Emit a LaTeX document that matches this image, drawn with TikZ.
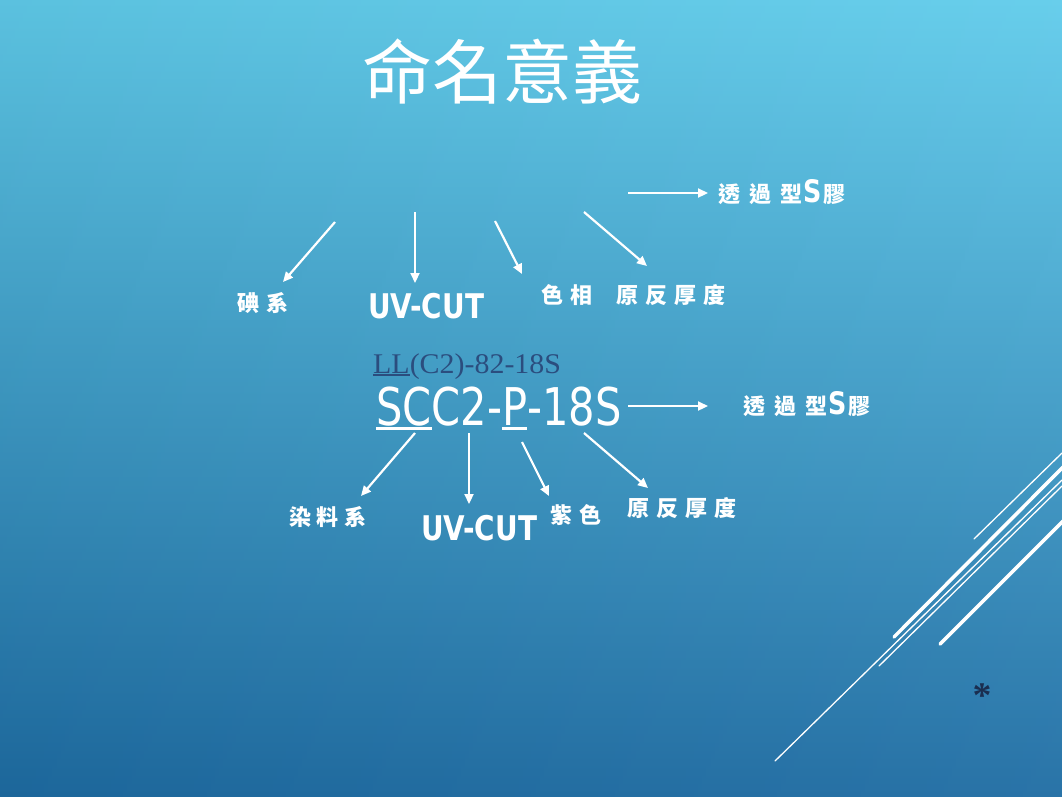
\documentclass[tikz,border=0pt]{standalone}
\usepackage{fontspec}
\usetikzlibrary{arrows.meta}
\setmainfont{DejaVu Sans}
\newfontfamily\cjk{Noto Sans CJK TC}
\newfontfamily\tah[FakeStretch=0.8]{DejaVu Sans}
\newfontfamily\tahb[FakeStretch=0.82]{DejaVu Sans Bold}
\newfontfamily\serifold[FakeStretch=1.05]{Liberation Serif}
\newcommand\myul[1]{\setbox0\hbox{#1}\rlap{\rule[-0.09em]{\wd0}{0.045em}}\box0}
\definecolor{bgtop}{HTML}{60CCEB}
\definecolor{bgbot}{HTML}{1E6CA3}
\definecolor{oldcode}{HTML}{2B4D7E}
\definecolor{star}{HTML}{1A2E50}
\begin{document}
\begin{tikzpicture}[x=1pt,y=-1pt,
  arr/.style={draw=white, line width=2.2pt, -{Triangle[length=10pt,width=9pt]}},
  lab/.style={text=white, inner sep=0pt, font=\cjk\bfseries\fontsize{22}{26}\selectfont},
  uvlab/.style={text=white, inner sep=0pt, anchor=base west, font=\tahb\fontsize{34}{40}\selectfont},
  bigS/.style={},
  thin/.style={draw=white, line width=1.3pt, line cap=round},
  thick/.style={draw=white, line width=3.5pt, line cap=round}]
\shade[top color=bgtop, bottom color=bgbot] (0,0) rectangle (1062,796);
\shade[left color=black, right color=white, opacity=0.05] (0,0) rectangle (1062,796);
\useasboundingbox (0,0) rectangle (1062,796);

% decorative lines
\draw[thin] (974,539) -- (1062,453);
\draw[thick] (894,637) -- (1066,464);
\draw[thin] (879,666) -- (1062,486);
\draw[thin] (775,761) -- (1062,480);
\draw[thick] (940,644) -- (1066,518);

% title
\node[text=white, inner sep=0pt, font=\cjk\fontsize{70}{80}\selectfont] (title) at (502,72) {命名意義};

% codes
\node[text=oldcode, inner sep=0pt, anchor=base west, font=\serifold\fontsize{28.5}{32}\selectfont] (old) at (373,373) {\myul{LL}(C2)-82-18S};
\node[text=white, inner sep=0pt, anchor=base west, font=\tah\fontsize{52}{60}\selectfont] (code) at (376,425) {\myul{SC}C2-\myul{P}-18S};

% top labels
\node[lab] (iod) at (263,303) {碘\hspace{8pt}系};
\node[uvlab] (uv1) at (368,318) {UV-CUT};
\node[lab, anchor=west] (hue) at (541,295) {色\hspace{7pt}相\hspace{24pt}原\hspace{7pt}反\hspace{7pt}厚\hspace{7pt}度};
\node[lab, anchor=west] (sgel1) at (718,192) {透\hspace{9pt}過\hspace{9pt}型\hspace{1pt}{\tahb\fontsize{31}{34}\selectfont S}\hspace{2pt}膠};

% bottom labels
\node[lab] (dye) at (328,517) {染\hspace{6pt}料\hspace{6pt}系};
\node[uvlab] (uv2) at (421,540) {UV-CUT};
\node[lab] (purple) at (576,515) {紫\hspace{7pt}色};
\node[lab] (thk) at (682,508) {原\hspace{7pt}反\hspace{7pt}厚\hspace{7pt}度};
\node[lab, anchor=west] (sgel2) at (743,404) {透\hspace{9pt}過\hspace{9pt}型\hspace{1pt}{\tahb\fontsize{31}{34}\selectfont S}\hspace{2pt}膠};

% arrow end points
\coordinate (a1s) at (335,222); \coordinate (a1e) at (283,282);
\coordinate (a2s) at (415,212); \coordinate (a2e) at (415,283);
\coordinate (a3s) at (495,221); \coordinate (a3e) at (522,274);
\coordinate (a4s) at (584,212); \coordinate (a4e) at (647,266);
\coordinate (a5s) at (628,193); \coordinate (a5e) at (708,193);
\coordinate (b1s) at (415,433); \coordinate (b1e) at (361,496);
\coordinate (b2s) at (469,433); \coordinate (b2e) at (469,504);
\coordinate (b3s) at (522,442); \coordinate (b3e) at (549,496);
\coordinate (b4s) at (584,433); \coordinate (b4e) at (648,488);
\coordinate (b5s) at (628,406); \coordinate (b5e) at (708,406);

\foreach \p in {a1,a2,a3,a4,a5,b1,b2,b3,b4,b5}
  \draw[arr] (\p s) -- (\p e);

% asterisk
\node[text=star, inner sep=0pt, font=\serifold\bfseries\fontsize{36}{40}\selectfont] (ast) at (982,696) {*};
\end{tikzpicture}
\end{document}
